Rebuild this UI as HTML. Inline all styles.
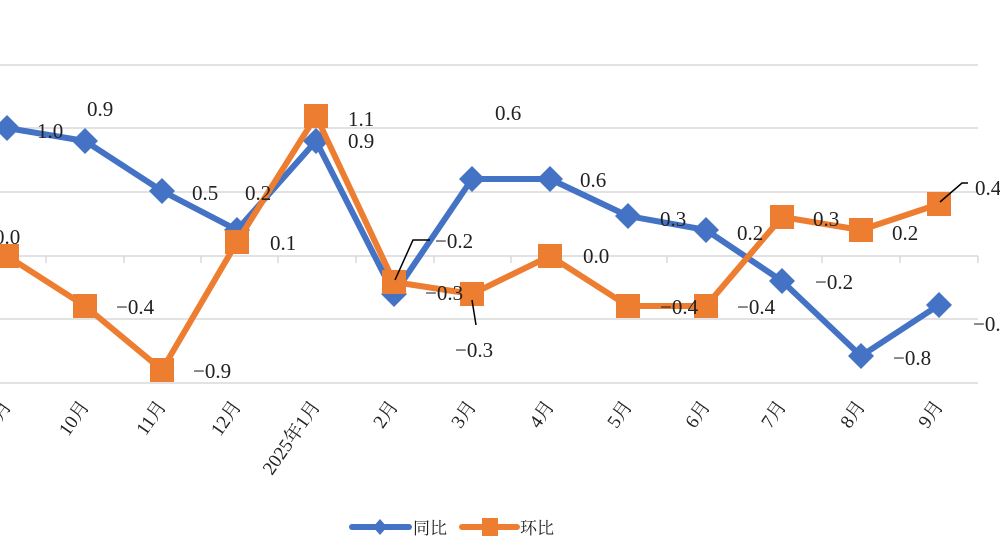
<!DOCTYPE html>
<html><head><meta charset="utf-8"><style>
html,body{margin:0;padding:0;background:#fff;width:1000px;height:560px;overflow:hidden}
svg text{font-family:"Liberation Serif","Noto Serif CJK SC",serif;fill:#222}
</style></head><body>
<svg width="1000" height="560" viewBox="0 0 1000 560">
<g stroke="#d9d9d9" stroke-width="1.5">
<line x1="0" y1="65" x2="978" y2="65"/><line x1="0" y1="128" x2="978" y2="128"/>
<line x1="0" y1="192" x2="978" y2="192"/><line x1="0" y1="256" x2="978" y2="256"/>
<line x1="0" y1="319" x2="978" y2="319"/><line x1="0" y1="383" x2="978" y2="383"/>
<g id="t"><line x1="46" y1="256" x2="46" y2="263"/><line x1="124" y1="256" x2="124" y2="263"/><line x1="201" y1="256" x2="201" y2="263"/><line x1="278" y1="256" x2="278" y2="263"/><line x1="356" y1="256" x2="356" y2="263"/><line x1="434" y1="256" x2="434" y2="263"/><line x1="511" y1="256" x2="511" y2="263"/><line x1="589" y1="256" x2="589" y2="263"/><line x1="667" y1="256" x2="667" y2="263"/><line x1="744" y1="256" x2="744" y2="263"/><line x1="822" y1="256" x2="822" y2="263"/><line x1="900" y1="256" x2="900" y2="263"/><line x1="978" y1="256" x2="978" y2="263"/></g>
</g>
<polyline fill="none" stroke="#4472c4" stroke-width="6" stroke-linejoin="round" points="7,128 85,141 162,191 237,230 316,141 394,294 472,179 550,179 628,216 706,230 782,281 861,356 939,305"/>
<g fill="#4472c4">
<path d="M7,115l13,13l-13,13l-13,-13z"/><path d="M85,128l13,13l-13,13l-13,-13z"/><path d="M162,178l13,13l-13,13l-13,-13z"/><path d="M237,217l13,13l-13,13l-13,-13z"/><path d="M316,128l13,13l-13,13l-13,-13z"/><path d="M394,281l13,13l-13,13l-13,-13z"/><path d="M472,166l13,13l-13,13l-13,-13z"/><path d="M550,166l13,13l-13,13l-13,-13z"/><path d="M628,203l13,13l-13,13l-13,-13z"/><path d="M706,217l13,13l-13,13l-13,-13z"/><path d="M782,268l13,13l-13,13l-13,-13z"/><path d="M861,343l13,13l-13,13l-13,-13z"/><path d="M939,292l13,13l-13,13l-13,-13z"/>
</g>
<polyline fill="none" stroke="#ed7d31" stroke-width="6" stroke-linejoin="round" points="7,256 85,306 162,370 237,242 316,116 394,282 472,294 550,256 628,306 706,306 782,217 861,230 939,204"/>
<g fill="#ed7d31">
<rect x="-5" y="244" width="24" height="24"/><rect x="73" y="294" width="24" height="24"/><rect x="150" y="358" width="24" height="24"/><rect x="225" y="230" width="24" height="24"/><rect x="304" y="104" width="24" height="24"/><rect x="382" y="270" width="24" height="24"/><rect x="460" y="282" width="24" height="24"/><rect x="538" y="244" width="24" height="24"/><rect x="616" y="294" width="24" height="24"/><rect x="694" y="294" width="24" height="24"/><rect x="770" y="205" width="24" height="24"/><rect x="849" y="218" width="24" height="24"/><rect x="927" y="192" width="24" height="24"/>
</g>
<g stroke="#000" stroke-width="1.5" fill="none">
<polyline points="395,280 413,240 430,240"/><polyline points="472,300 476,325"/><polyline points="940,202 962,183 968,183"/>
</g>
<g font-size="21">
<text x="37" y="138">1.0</text><text x="87" y="116">0.9</text><text x="192" y="200">0.5</text><text x="245" y="200">0.2</text><text x="348" y="148">0.9</text><text x="435" y="248">−0.2</text><text x="495" y="120">0.6</text><text x="580" y="187">0.6</text><text x="660" y="226">0.3</text><text x="737" y="314">−0.4</text><text x="815" y="289">−0.2</text><text x="893" y="365">−0.8</text><text x="973" y="331">−0.2</text>
<text x="-6" y="244">0.0</text><text x="116" y="314">−0.4</text><text x="193" y="378">−0.9</text><text x="270" y="250">0.1</text><text x="348" y="126">1.1</text><text x="425" y="300">−0.3</text><text x="455" y="357">−0.3</text><text x="583" y="263">0.0</text><text x="660" y="314">−0.4</text><text x="737" y="240">0.2</text><text x="813" y="226">0.3</text><text x="892" y="240">0.2</text><text x="975" y="195">0.4</text>
</g>
<g font-size="19" fill="#444" text-anchor="end">
<text transform="translate(12,406) rotate(-55)">9月</text>
<text transform="translate(90,406) rotate(-55)">10月</text>
<text transform="translate(167,406) rotate(-55)">11月</text>
<text transform="translate(242,406) rotate(-55)">12月</text>
<text transform="translate(321,406) rotate(-55)">2025年1月</text>
<text transform="translate(399,406) rotate(-55)">2月</text>
<text transform="translate(477,406) rotate(-55)">3月</text>
<text transform="translate(555,406) rotate(-55)">4月</text>
<text transform="translate(633,406) rotate(-55)">5月</text>
<text transform="translate(711,406) rotate(-55)">6月</text>
<text transform="translate(787,406) rotate(-55)">7月</text>
<text transform="translate(866,406) rotate(-55)">8月</text>
<text transform="translate(944,406) rotate(-55)">9月</text>
</g>
<line x1="352" y1="527" x2="409" y2="527" stroke="#4472c4" stroke-width="6" stroke-linecap="round"/>
<path d="M380,519l7,8l-7,8l-7,-8z" fill="#4472c4"/>
<text x="413" y="534" font-size="17" fill="#444">同比</text>
<line x1="462" y1="527" x2="517" y2="527" stroke="#ed7d31" stroke-width="6" stroke-linecap="round"/>
<rect x="482" y="518" width="16" height="18" fill="#ed7d31"/>
<text x="520" y="534" font-size="17" fill="#444">环比</text>
</svg>
</body></html>
